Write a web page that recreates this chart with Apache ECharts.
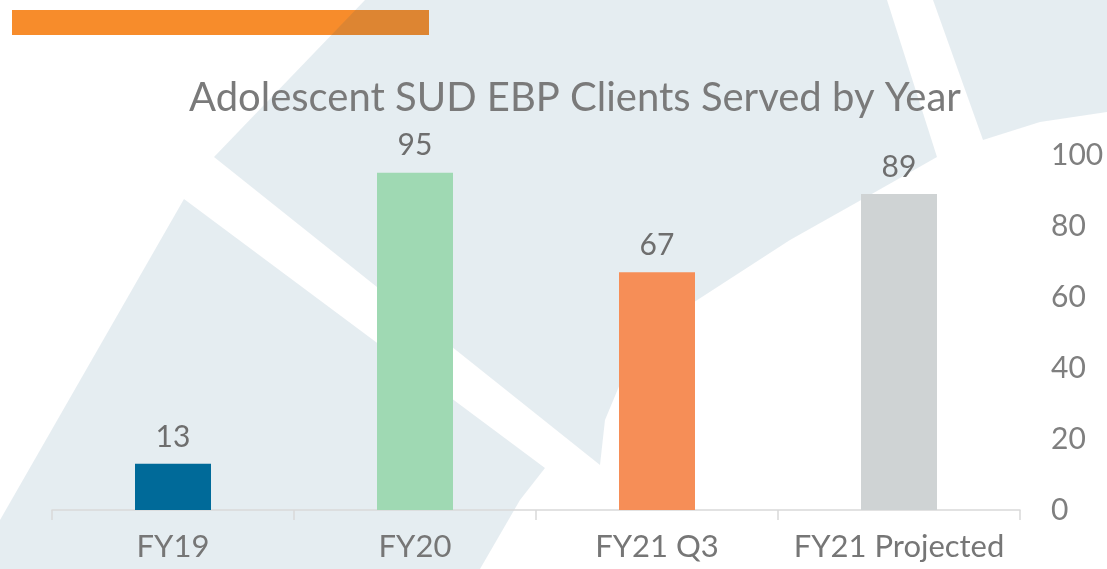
<!DOCTYPE html>
<html>
<head>
<meta charset="utf-8">
<script src="https://cdn.jsdelivr.net/npm/echarts@6/dist/echarts.min.js"></script>
<style>
  html, body { margin: 0; padding: 0; background: #ffffff; }
  #main { width: 1107px; height: 569px; }
</style>
</head>
<body>
<div id="main"></div>
<script>
var categories = ['FY19', 'FY20', 'FY21 Q3', 'FY21 Projected'];
var clients = [13, 95, 67, 89];
var barColors = ['#006A99', '#9FD9B3', '#F68E57', '#CFD3D4'];
var yTicks = { min: 0, max: 100, interval: 20 };

var chartDom = document.getElementById('main');
var myChart = echarts.init(chartDom);
var option;

// slide background decoration (light swooshes) + orange header bar
var tint = 'rgba(0,75,115,0.1)';

option = {
  backgroundColor: '#ffffff',
  textStyle: { fontFamily: 'Lato' },
  title: {
    text: 'Adolescent SUD EBP Clients Served by Year',
    left: 184,
    top: 73,
    textStyle: {
      fontFamily: 'Lato',
      fontSize: 40,
      fontWeight: 'normal',
      color: '#7A7A7A'
    }
  },
  graphic: [
    { type: 'rect', z: -3, shape: { x: 12, y: 10, width: 417, height: 25 }, style: { fill: '#F78C2B' } },
    { type: 'polygon', z: -2,
      shape: { points: [[365,0],[887,0],[937,157],[870,195],[790,240],[685,308],[630,360],[605,420],[600,465],[214,157]] },
      style: { fill: tint } },
    { type: 'polygon', z: -2,
      shape: { points: [[184,199],[545,468],[520,500],[480,569],[0,569],[0,520]] },
      style: { fill: tint } },
    { type: 'polygon', z: -2,
      shape: { points: [[933,0],[1107,0],[1107,112],[1040,122],[983,140]] },
      style: { fill: tint } }
  ],
  grid: {
    left: 52,
    right: 87,
    top: 155,
    bottom: 59,
    containLabel: false
  },
  xAxis: {
    type: 'category',
    data: categories,
    axisLine: { lineStyle: { color: '#D9D9D9', width: 1.5 } },
    axisTick: { show: true, length: 10, lineStyle: { color: '#D9D9D9', width: 1.5 } },
    axisLabel: {
      interval: 0,
      color: '#767676',
      fontSize: 31,
      margin: 21
    }
  },
  yAxis: {
    type: 'value',
    position: 'right',
    min: yTicks.min,
    max: yTicks.max,
    interval: yTicks.interval,
    splitLine: { show: false },
    axisLine: { show: false },
    axisTick: { show: false },
    axisLabel: {
      color: '#7F7F7F',
      fontSize: 30,
      margin: 31
    }
  },
  series: [
    {
      name: 'Clients',
      type: 'bar',
      barWidth: 76,
      data: clients.map(function (v, i) {
        return { value: v, itemStyle: { color: barColors[i] } };
      }),
      label: {
        show: true,
        position: 'top',
        distance: 12,
        color: '#6E6E6E',
        fontSize: 30
      }
    }
  ]
};

option && myChart.setOption(option);

window.onresize = function() {
  myChart.resize();
};
</script>
</body>
</html>
